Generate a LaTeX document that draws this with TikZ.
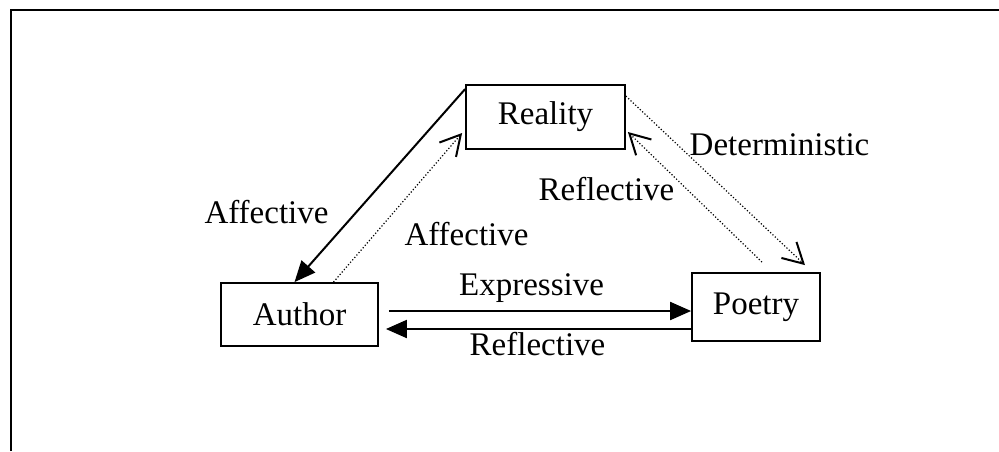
\documentclass[tikz,border=0pt]{standalone}
\usepackage{fontspec}
\setmainfont{Liberation Serif}
\usetikzlibrary{arrows.meta}
\tikzset{
  every node/.style={
    font=\fontsize{16.5}{20}\selectfont
  },
  box/.style={draw, line width=0.9pt, inner sep=0pt},
  lbl/.style={anchor=base, inner sep=0pt},
  solidarrow/.style={line width=1pt, -{Triangle[length=10.5pt,width=9pt]}},
  dotarrow/.style={line width=0.6pt, densely dotted, -{Straight Barb[length=10pt,width=11pt,line width=1pt]}}
}

\begin{document}
\begin{tikzpicture}[x=0.5pt, y=-0.5pt]
    \useasboundingbox (0,0) rectangle (999,451);
    \draw[line width=1pt] (11,451) |- (999,10);
    \node [box, minimum width=79.5pt, minimum height=32pt] (Reality) at (545.5,117) {Reality};
    \node [box, minimum width=78.5pt, minimum height=31.5pt] (Author) at (299.5,314.5) {Author};
    \node [box, minimum width=64pt, minimum height=34pt] (Poetry) at (756,307) {Poetry};
    \draw[solidarrow] ([yshift=-2.5pt]Reality.north west) -- ([xshift=-2.5pt]Author.north);
    \draw[dotarrow] ([xshift=17pt]Author.north) -- ([xshift=-1.5pt,yshift=-8pt]Reality.west);
    \draw[dotarrow] ([yshift=-6pt]Reality.north east) -- ([xshift=24.5pt,yshift=3.5pt]Poetry.north);
    \draw[dotarrow] ([xshift=3pt,yshift=5pt]Poetry.north) -- ([xshift=1pt,yshift=-7.5pt]Reality.east);
    \draw[solidarrow] ([xshift=5pt,yshift=1.75pt]Author.east) -- ([yshift=1.75pt]Author.east -| Poetry.west);
    \draw[solidarrow] ([yshift=-7.25pt]Author.east -| Poetry.west) -- ([xshift=3.5pt,yshift=-7.25pt]Author.east);
    \node [lbl] (AffL) at (266.5,223) {Affective};
    \node [lbl] (AffR) at (466.5,245) {Affective};
    \node [lbl] (Det) at (779.5,155) {Deterministic};
    \node [lbl] (RefU) at (606.5,200) {Reflective};
    \node [lbl] (Expr) at (531.5,295) {Expressive};
    \node [lbl] (RefL) at (537.5,355) {Reflective};
\end{tikzpicture}
\end{document}
